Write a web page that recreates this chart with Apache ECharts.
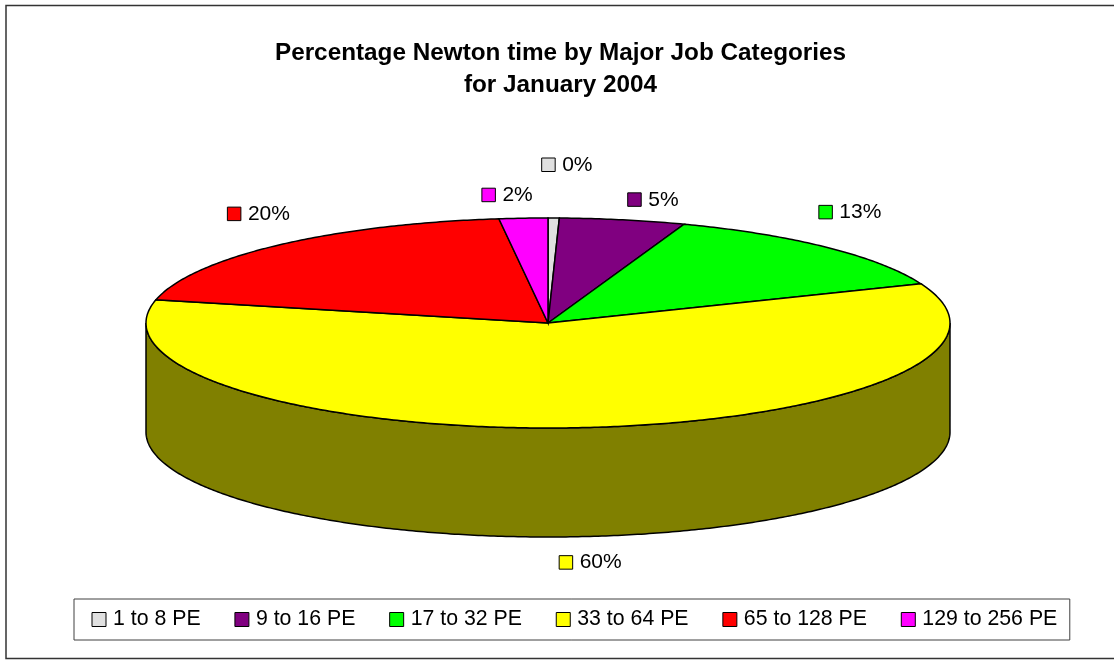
<!DOCTYPE html>
<html>
<head>
<meta charset="utf-8">
<style>html,body{margin:0;padding:0;background:#fff}#c{width:1114px;height:660px}</style>
<script src="https://cdn.jsdelivr.net/npm/echarts@6/dist/echarts.min.js"></script>
</head>
<body>
<div id="c"></div>
<script>
const categories = ['1 to 8 PE','9 to 16 PE','17 to 32 PE','33 to 64 PE','65 to 128 PE','129 to 256 PE'];
const shares = [0.45,5.05,13.4,59.65,19.5,1.95];
const colors = ['#e0e0e0','#800080','#00ff00','#ffff00','#ff0000','#ff00ff'];
const wallColors = ['#707070','#400040','#008000','#808000','#800000','#800080'];
const labelOffsets = [[-12,-53],[5,-20],[-8,-35],[-21,135],[-51,-31],[-41.5,-23]];

const cx = 548, cy = 323, rx = 402, ry = 105, depth = 109;
const fontFamily = '"Liberation Sans", Arial, sans-serif';
const total = shares.reduce((a,b)=>a+b,0);
const chart = echarts.init(document.getElementById('c'), null, {renderer:'canvas'});

function rim(t, dy){
  return [cx + rx*Math.sin(t), cy - ry*Math.cos(t) + (dy||0)];
}
function arc(a, b, dy){
  const n = Math.max(2, Math.ceil(Math.abs(b-a)/0.01));
  const out = [];
  for(let i=0;i<=n;i++) out.push(rim(a+(b-a)*i/n, dy));
  return out;
}
function renderSlice(idx){
  return function(){
    const before = shares.slice(0,idx).reduce((a,b)=>a+b,0);
    const a = before/total*2*Math.PI;
    const b = (before+shares[idx])/total*2*Math.PI;
    const children = [];
    const fa = Math.max(a, Math.PI/2), fb = Math.min(b, Math.PI*1.5);
    if(fb > fa){
      children.push({type:'polygon',
        shape:{points: arc(fa,fb,0).concat(arc(fb,fa,depth))},
        style:{fill:wallColors[idx],stroke:'#000',lineWidth:1.5}});
    }
    children.push({type:'polygon',
      shape:{points:[[cx,cy]].concat(arc(a,b,0))},
      style:{fill:colors[idx],stroke:'#000',lineWidth:1.5}});
    const anchor = rim((a+b)/2);
    const lx = anchor[0]+labelOffsets[idx][0], ly = anchor[1]+labelOffsets[idx][1];
    children.push({type:'rect',shape:{x:lx,y:ly-7,width:13.5,height:13.5},
      style:{fill:colors[idx],stroke:'#000',lineWidth:1}});
    children.push({type:'text',x:lx+20.5,y:ly,
      style:{text:Math.round(shares[idx])+'%',fill:'#000',
        font:'21px '+fontFamily,textVerticalAlign:'middle',textAlign:'left'}});
    return {type:'group',children};
  };
}
chart.setOption({
  animation:false,
  backgroundColor:'#fff',
  title:{
    text:'Percentage Newton time by Major Job Categories\nfor January 2004',
    left:555.5,textAlign:'center',top:32,
    textStyle:{fontFamily,fontSize:24.3,fontWeight:'bold',color:'#000',lineHeight:32}
  },
  legend:{
    data:categories,left:74,top:599,orient:'horizontal',
    padding:[10,12.5,10,17.5],itemGap:33.8,itemWidth:14,itemHeight:14,
    icon:'rect',borderColor:'#404040',borderWidth:1,
    itemStyle:{borderColor:'#000',borderWidth:1},
    textStyle:{fontFamily,fontSize:21.3,color:'#000',padding:[0,0,0,2]},
    selectedMode:false
  },
  graphic:[{type:'rect',shape:{x:6,y:5.5,width:1120,height:653},
    style:{fill:'none',stroke:'#333',lineWidth:1.5},silent:true}],
  series:categories.map((name,i)=>({
    type:'custom',name,coordinateSystem:'none',
    itemStyle:{color:colors[i]},
    data:[shares[i]],
    renderItem:renderSlice(i),silent:true
  }))
});
</script>
</body>
</html>
